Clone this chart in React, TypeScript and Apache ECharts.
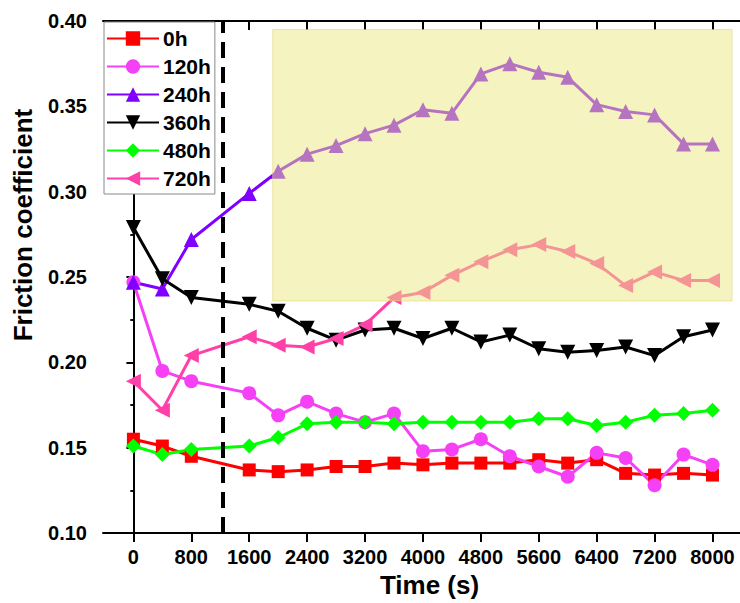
import React, { useEffect, useRef } from "react";
import * as echarts from "echarts";

const times = [0, 400, 800, 1600, 2000, 2400, 2800, 3200, 3600, 4000, 4400, 4800, 5200, 5600, 6000, 6400, 6800, 7200, 7600, 8000];
const s0h = [0.155, 0.151, 0.145, 0.137, 0.136, 0.137, 0.139, 0.139, 0.141, 0.140, 0.141, 0.141, 0.141, 0.143, 0.141, 0.143, 0.135, 0.134, 0.135, 0.134];
const s120h = [0.247, 0.195, 0.189, 0.182, 0.169, 0.177, 0.170, 0.165, 0.170, 0.148, 0.149, 0.155, 0.145, 0.139, 0.133, 0.147, 0.144, 0.128, 0.146, 0.140];
const s240h = [0.247, 0.243, 0.272, 0.299, 0.312, 0.322, 0.327, 0.334, 0.339, 0.348, 0.346, 0.369, 0.375, 0.370, 0.367, 0.351, 0.347, 0.345, 0.328, 0.328];
const s360h = [0.279, 0.249, 0.238, 0.234, 0.230, 0.220, 0.213, 0.219, 0.220, 0.214, 0.220, 0.212, 0.216, 0.208, 0.206, 0.207, 0.209, 0.204, 0.215, 0.219];
const s480h = [0.151, 0.146, 0.149, 0.151, 0.156, 0.164, 0.165, 0.165, 0.164, 0.165, 0.165, 0.165, 0.165, 0.167, 0.167, 0.163, 0.165, 0.169, 0.170, 0.172];
const s720h = [0.189, 0.172, 0.204, 0.215, 0.210, 0.209, 0.214, 0.222, 0.238, 0.241, 0.251, 0.259, 0.266, 0.269, 0.265, 0.258, 0.245, 0.253, 0.248, 0.248];

const xTicks = [0, 800, 1600, 2400, 3200, 4000, 4800, 5600, 6400, 7200, 8000];
const seriesNames = ["0h", "120h", "240h", "360h", "480h", "720h"];
const seriesColors = ["#ff0000", "#f540f5", "#8000ff", "#000000", "#00ff00", "#ff40a8"];
const seriesSymbols = ["rect", "circle", "triangle", "triangle", "diamond", "triangle"];
const seriesRotate = [0, 0, 0, 180, 0, 90];
const seriesSizes = [13, 14, 15, 15, 15, 15];
const dashedX = 1240;
const boxX = [1925, 8270];
const boxY = [0.236, 0.395];

const FONT = "Arial, 'Liberation Sans', sans-serif";

export default function App() {
  const ref = useRef<HTMLDivElement>(null);
  useEffect(() => {
    if (!ref.current) return;
    const chart = echarts.init(ref.current, undefined, { renderer: "svg" });
    const all = [s0h, s120h, s240h, s360h, s480h, s720h];
    const series: any[] = all.map((vals, i) => {
      const s: any = {
        name: seriesNames[i],
        type: "line",
        data: times.map((t, j) => [t, vals[j]]),
        symbol: seriesSymbols[i],
        symbolSize: seriesSizes[i],
        symbolRotate: seriesRotate[i],
        lineStyle: { color: seriesColors[i], width: 3 },
        itemStyle: { color: seriesColors[i] },
        emphasis: { disabled: true },
      };
      if (i === 0) {
        s.markLine = {
          silent: true,
          symbol: ["none", "none"],
          label: { show: false },
          lineStyle: { type: [16, 9], width: 4, color: "#000" },
          data: [{ xAxis: dashedX }],
        };
      }
      if (i === 5) {
        s.markArea = {
          silent: true,
          z: 10,
          itemStyle: {
            color: "rgba(235,231,129,0.5)",
            borderColor: "rgba(230,215,120,0.6)",
            borderWidth: 1,
          },
          data: [[{ xAxis: boxX[0], yAxis: boxY[1] }, { xAxis: boxX[1], yAxis: boxY[0] }]],
        };
      }
      return s;
    });
    const axisLineStyle = { color: "#000", width: 2 };
    chart.setOption({
      animation: false,
      grid: { left: 103, top: 21, width: 638, height: 517 },
      legend: {
        orient: "vertical",
        left: 104,
        top: 22,
        itemWidth: 52,
        itemHeight: 18,
        itemGap: 7,
        padding: [6, 4, 5, 2],
        borderColor: "#888",
        borderWidth: 1,
        backgroundColor: "#fff",
        textStyle: { fontFamily: FONT, fontWeight: "bold", fontSize: 21, color: "#000", padding: [0, 0, 0, -1] },
        data: seriesNames,
      },
      xAxis: [
        {
          type: "value",
          min: -420,
          max: 8380,
          position: "bottom",
          name: "Time (s)",
          nameLocation: "middle",
          nameGap: 38,
          nameTextStyle: { fontFamily: FONT, fontWeight: "bold", fontSize: 26, color: "#000", padding: [0, 0, 0, 16] },
          axisLine: { show: true, lineStyle: axisLineStyle },
          axisTick: { show: true, customValues: xTicks, length: 9, lineStyle: { color: "#000", width: 2 } },
          axisLabel: {
            customValues: xTicks,
            margin: 14,
            fontFamily: FONT,
            fontWeight: "bold",
            fontSize: 20,
            color: "#000",
            formatter: (v: number) => String(v),
          },
          splitLine: { show: false },
        },
        {
          type: "value",
          min: -420,
          max: 8380,
          position: "top",
          axisLine: { show: true, lineStyle: axisLineStyle },
          axisTick: { show: true, inside: true, customValues: xTicks, length: 9, lineStyle: { color: "#000", width: 2 } },
          axisLabel: { show: false },
          splitLine: { show: false },
        },
      ],
      yAxis: [
        {
          type: "value",
          min: 0.1,
          max: 0.4,
          interval: 0.05,
          position: "left",
          name: "Friction coefficient",
          nameLocation: "middle",
          nameGap: 67,
          nameTextStyle: { fontFamily: FONT, fontWeight: "bold", fontSize: 26, color: "#000", padding: [0, 0, 0, 104] },
          axisLine: { show: true, lineStyle: axisLineStyle },
          axisTick: { show: true, length: 6, lineStyle: { color: "#000", width: 2 } },
          minorTick: { show: true, splitNumber: 2, length: 3, lineStyle: { color: "#000", width: 1.5 } },
          axisLabel: {
            margin: 16,
            fontFamily: FONT,
            fontWeight: "bold",
            fontSize: 20,
            color: "#000",
            formatter: (v: number) => v.toFixed(2),
          },
          splitLine: { show: false },
        },
        {
          type: "value",
          min: 0.1,
          max: 0.4,
          interval: 0.05,
          position: "right",
          axisLine: { show: false },
          axisTick: { show: true, inside: true, length: 7, lineStyle: { color: "#000", width: 2 } },
          minorTick: { show: true, splitNumber: 2, length: 3, lineStyle: { color: "#000", width: 1.5 } },
          axisLabel: { show: false },
          splitLine: { show: false },
        },
      ],
      series,
    });
    return () => chart.dispose();
  }, []);
  return <div ref={ref} style={{ position: "absolute", left: 0, top: 0, width: 740, height: 603 }} />;
}
